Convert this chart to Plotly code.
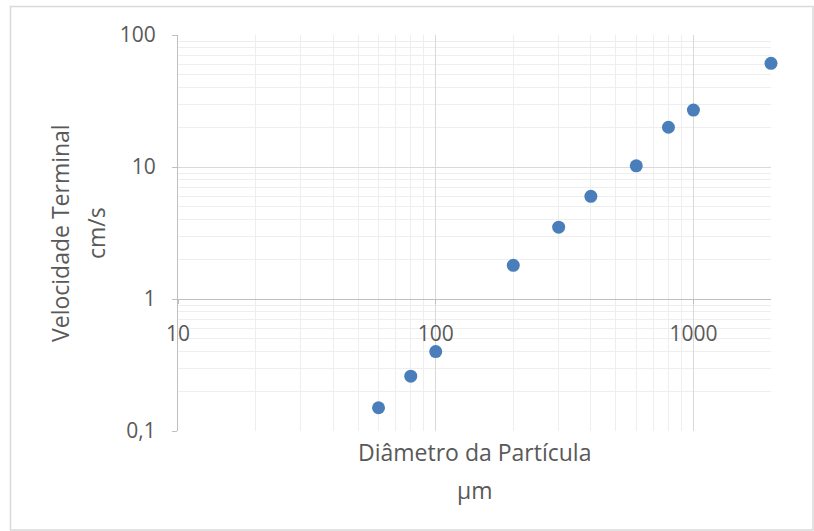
import plotly.graph_objects as go

# Data
diametro_um = [60, 80, 100, 200, 300, 400, 600, 800, 1000, 2000]
velocidade_cms = [0.15, 0.26, 0.40, 1.8, 3.5, 6.0, 10.2, 20, 27, 61]

x_tickvals = [10, 100, 1000]
x_ticktext = ["10", "100", "1000"]
y_tickvals = [0.1, 1, 10, 100]
y_ticktext = ["0,1", "1", "10", "100"]

x_title = "Diâmetro da Partícula"
x_unit = "µm"
y_title = "Velocidade Terminal"
y_unit = "cm/s"

FONT = "Open Sans"
TXT = "#595959"
MAJOR = "#d9d9d9"
MINOR = "#eeeeee"
AXL = "#bfbfbf"

fig = go.Figure()
fig.add_trace(go.Scatter(
    x=diametro_um, y=velocidade_cms, mode="markers",
    marker=dict(size=13, color="#4a7ebb", line=dict(width=0)),
    cliponaxis=False,
    showlegend=False,
))

W, H = 814, 531
L, R, T, B = 178, 43, 35, 100
pw, ph = W - L - R, H - T - B

def px(x):
    return (x - L) / pw

def py(y):
    return (H - B - y) / ph

fig.update_layout(
    width=W, height=H,
    margin=dict(l=L, r=R, t=T, b=B, autoexpand=False),
    paper_bgcolor="white", plot_bgcolor="white",
    separators=",.",
    font=dict(family=FONT, color=TXT),
    xaxis=dict(
        type="log", range=[1, 3.30103],
        tickmode="array", tickvals=x_tickvals, ticktext=x_ticktext,
        tickfont=dict(size=21, color=TXT, family=FONT),
        showgrid=True, gridcolor=MAJOR, gridwidth=1,
        minor=dict(showgrid=True, gridcolor=MINOR, dtick="D1", ticks=""),
        showline=True, linecolor=AXL, linewidth=1,
        ticks="outside", ticklen=4, tickcolor=AXL,
        anchor="free", position=1/3,
        ticklabelstandoff=12,
        zeroline=False,
    ),
    yaxis=dict(
        type="log", range=[-1, 2],
        tickmode="array", tickvals=y_tickvals, ticktext=y_ticktext,
        tickfont=dict(size=21, color=TXT, family=FONT),
        showgrid=True, gridcolor=MAJOR, gridwidth=1,
        minor=dict(showgrid=True, gridcolor=MINOR, dtick="D1", ticks=""),
        showline=True, linecolor=AXL, linewidth=1,
        ticks="outside", ticklen=5, tickcolor=AXL,
        ticklabelstandoff=12,
        zeroline=False,
    ),
    shapes=[dict(
        type="rect", xref="paper", yref="paper",
        x0=px(10.5), x1=px(813), y0=py(530), y1=py(6.5),
        line=dict(color="#d9d9d9", width=1.5), fillcolor="rgba(0,0,0,0)",
        layer="below",
    )],
    annotations=[
        dict(text=x_title, x=0.5, y=py(452), xref="paper", yref="paper",
             showarrow=False, xanchor="center", yanchor="middle",
             font=dict(size=23, color=TXT, family=FONT)),
        dict(text=x_unit, x=0.5, y=py(490), xref="paper", yref="paper",
             showarrow=False, xanchor="center", yanchor="middle",
             font=dict(size=23, color=TXT, family=FONT)),
        dict(text=y_title, x=px(60), y=0.5, xref="paper", yref="paper",
             showarrow=False, xanchor="center", yanchor="middle", textangle=-90,
             font=dict(size=23, color=TXT, family=FONT)),
        dict(text=y_unit, x=px(96), y=0.5, xref="paper", yref="paper",
             showarrow=False, xanchor="center", yanchor="middle", textangle=-90,
             font=dict(size=23, color=TXT, family=FONT)),
    ],
)

fig.write_html(
    "out.html",
    config={"displayModeBar": False},
    post_script="document.body.style.margin='0';document.body.style.overflow='hidden';",
)
